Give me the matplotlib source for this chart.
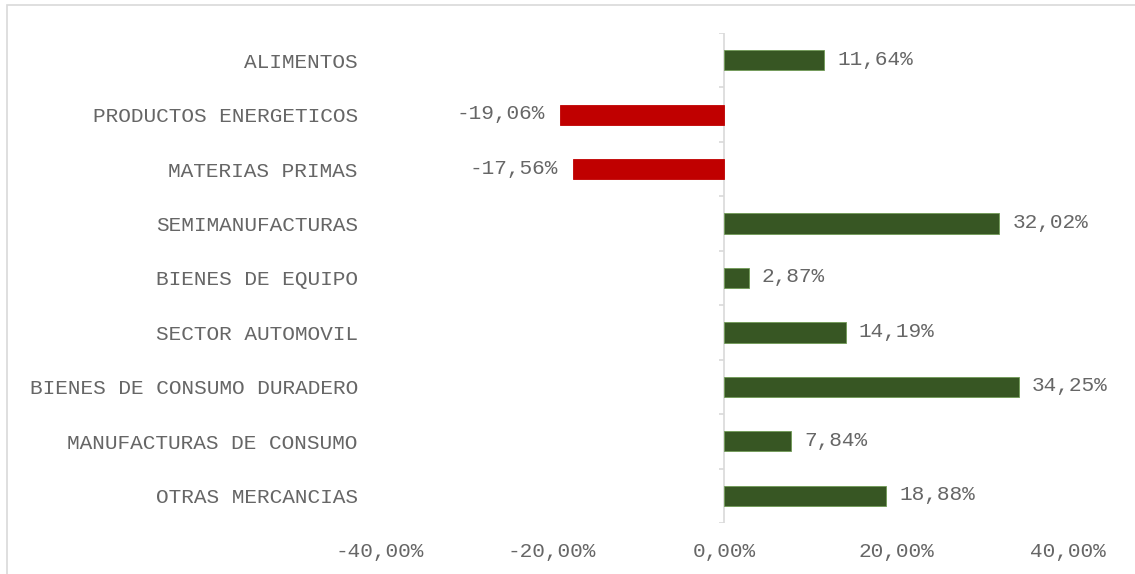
import matplotlib.pyplot as plt
from matplotlib.patches import Rectangle

# categories top to bottom
categories = ['ALIMENTOS', 'PRODUCTOS ENERGETICOS', 'MATERIAS PRIMAS',
              'SEMIMANUFACTURAS', 'BIENES DE EQUIPO', 'SECTOR AUTOMOVIL',
              'BIENES DE CONSUMO DURADERO', 'MANUFACTURAS DE CONSUMO',
              'OTRAS MERCANCIAS']
values = [11.64, -19.06, -17.56, 32.02, 2.87, 14.19, 34.25, 7.84, 18.88]
xticks = [-40, -20, 0, 20, 40]
xtick_labels = ['-40,00%', '-20,00%', '0,00%', '20,00%', '40,00%']

green = '#375623'
red = '#C00000'
txt = '#666666'
font = 'Liberation Mono'
fs = 15.2

fig = plt.figure(figsize=(11.35, 5.74), dpi=100)
W, H = 1135, 574

# chart area border (cut off on right/bottom in the reference)
fig.patches.append(Rectangle((7 / W, -0.1), 1.2, 1 - 5 / H + 0.1,
                             transform=fig.transFigure, fill=False,
                             edgecolor='#d9d9d9', linewidth=1.2))

ax = fig.add_axes([380 / W, 1 - 523 / H, (1068 - 380) / W, (523 - 33) / H])

y = list(range(len(categories)))
colors = [green if v >= 0 else red for v in values]
edges = ['#6f9a55' if v >= 0 else red for v in values]
ax.barh(y, values, height=0.37, color=colors, edgecolor=edges, linewidth=0.6, zorder=3)

for yi, v in zip(y, values):
    lab = f'{v:.2f}'.replace('.', ',') + '%'
    if v >= 0:
        ax.text(v + 1.5, yi - 0.02, lab, ha='left', va='center', color=txt,
                fontsize=fs, family=font)
    else:
        ax.text(v - 1.8, yi - 0.02, lab, ha='right', va='center', color=txt,
                fontsize=fs, family=font)

ax.set_xlim(-40, 40)
ax.set_ylim(len(categories) - 0.5, -0.5)

# vertical axis at zero with small tick marks
ax.axvline(0, color='#d9d9d9', linewidth=1.2, zorder=2)
bounds = [i - 0.5 for i in range(len(categories) + 1)]
ax.hlines(bounds, -0.6, 0, color='#d9d9d9', linewidth=1.2, zorder=2)

ax.set_yticks(y)
ax.set_yticklabels(categories, family=font, fontsize=fs, color=txt)
ax.set_xticks(xticks)
ax.set_xticklabels(xtick_labels, family=font, fontsize=fs, color=txt)
ax.tick_params(axis='y', length=0, pad=16)
ax.tick_params(axis='x', length=0, pad=14)
for s in ax.spines.values():
    s.set_visible(False)

fig.savefig('out.png', dpi=100)
